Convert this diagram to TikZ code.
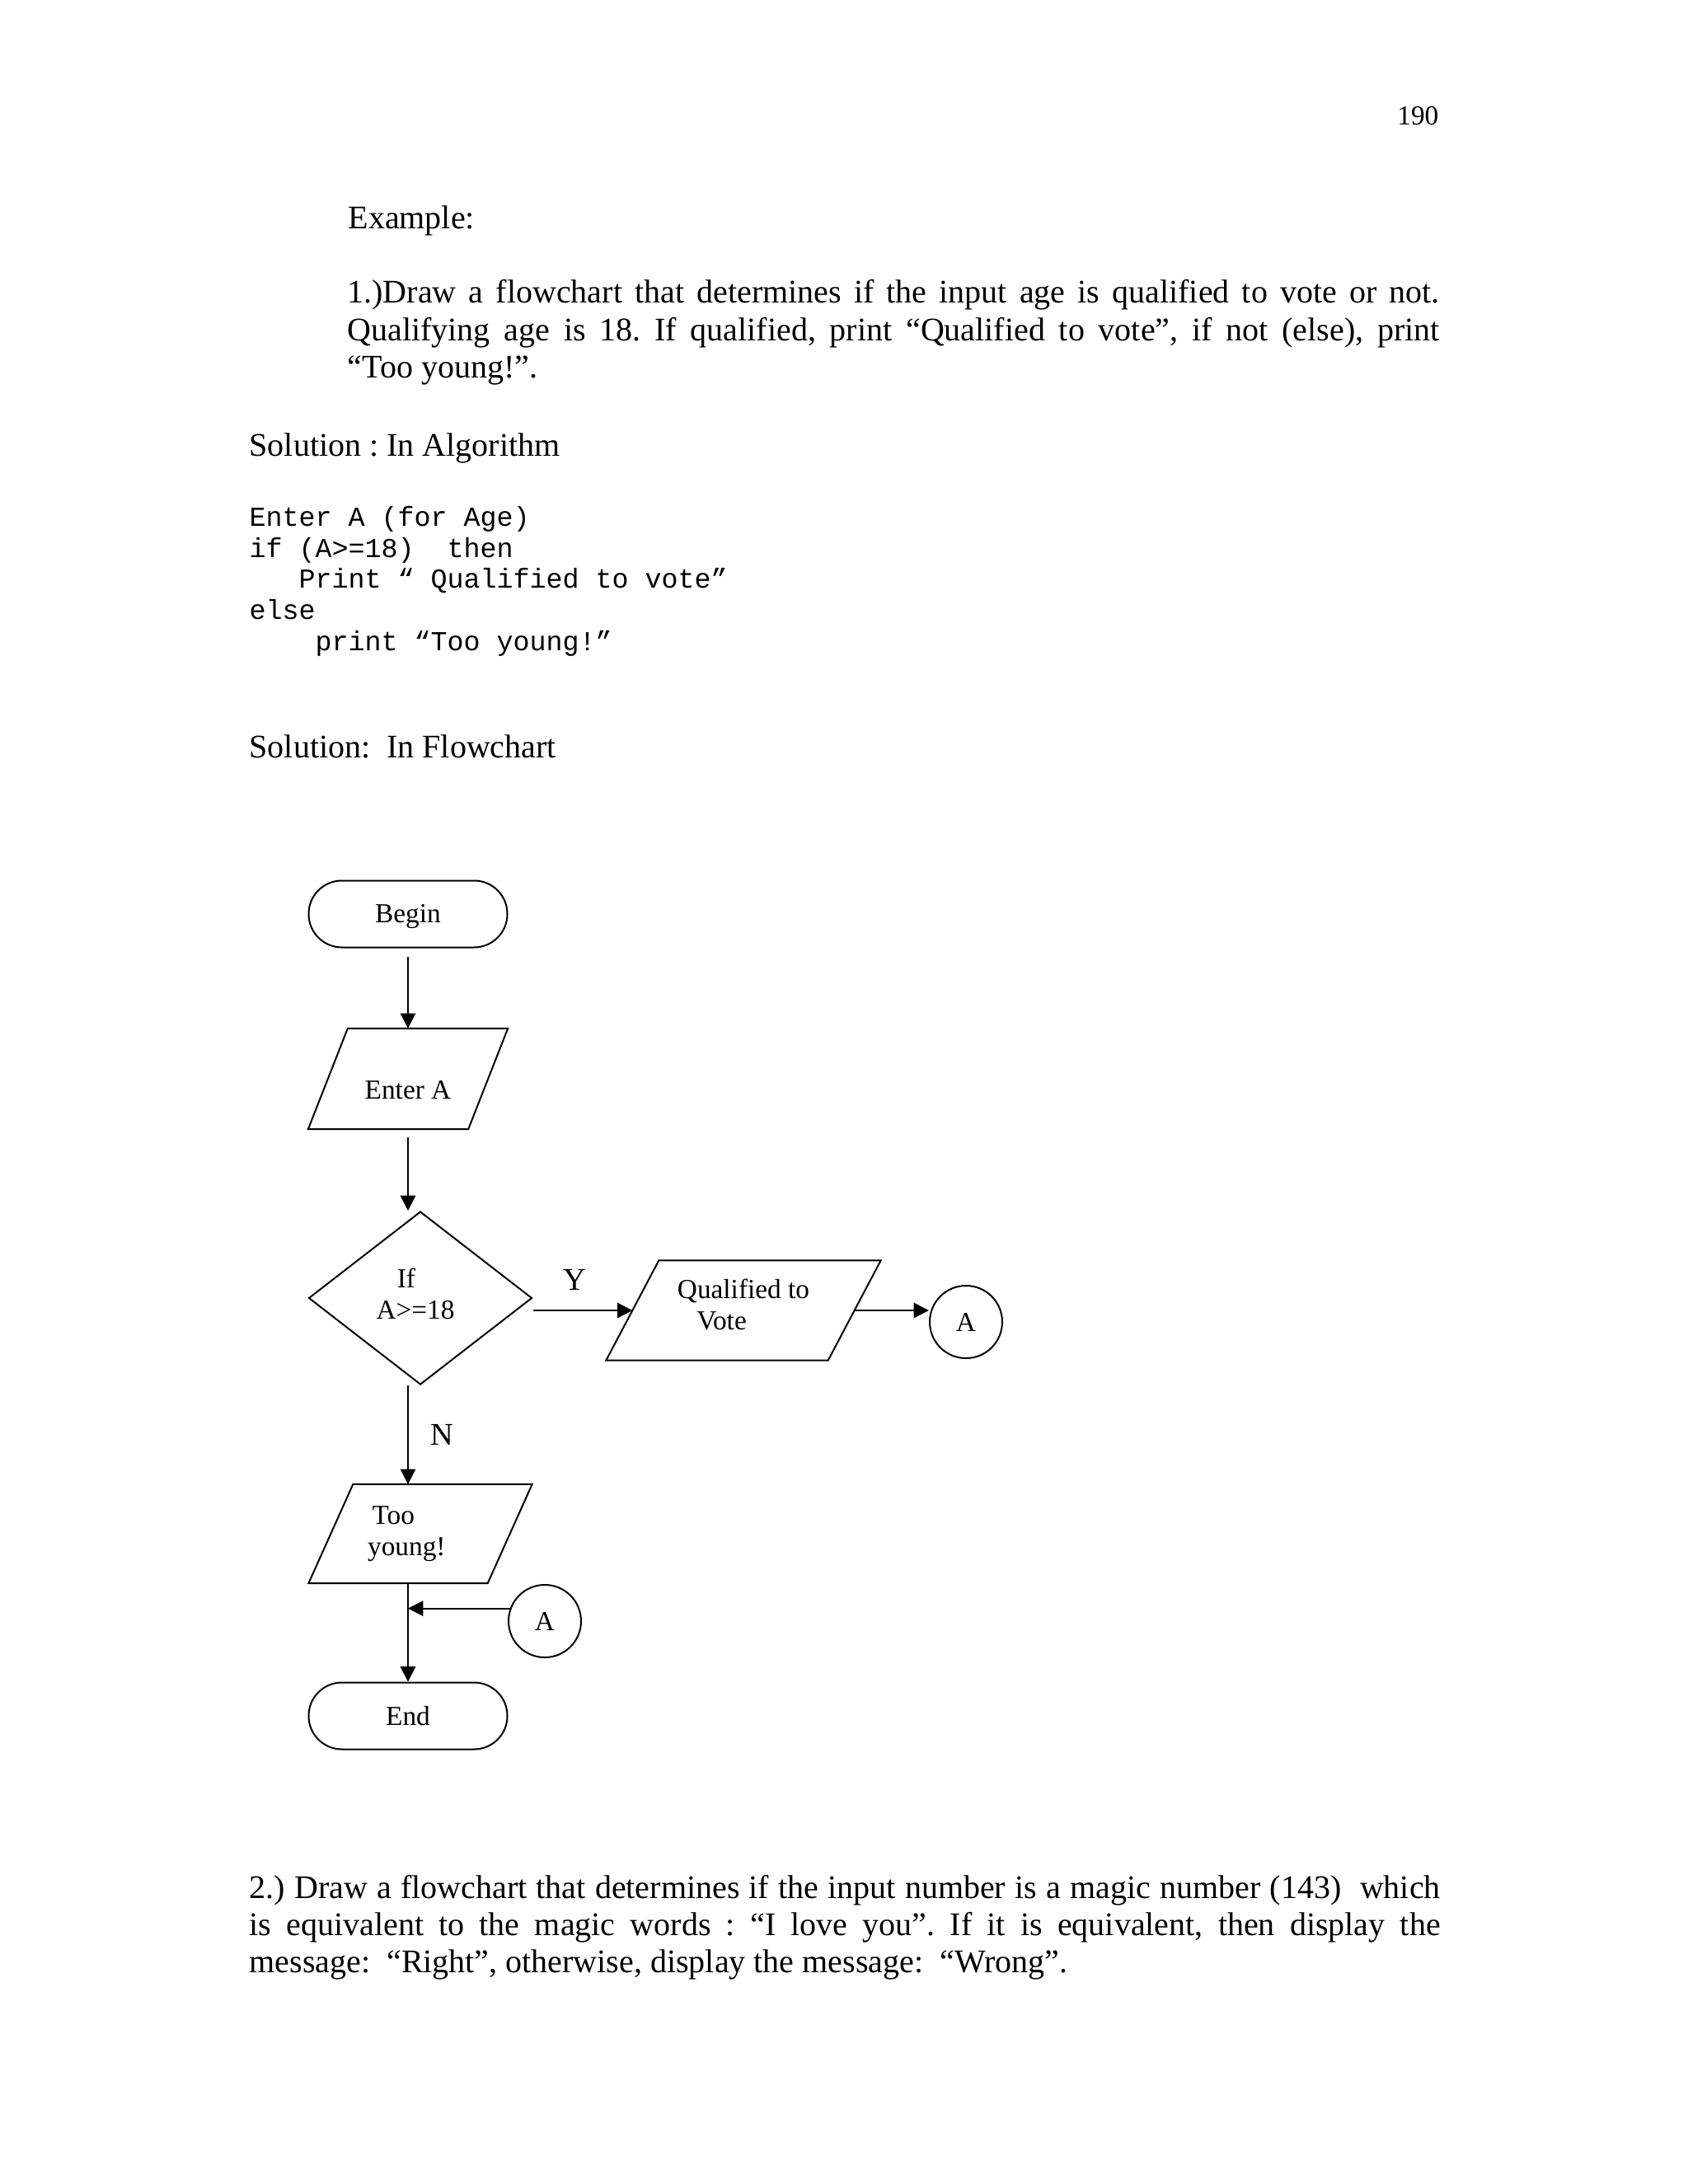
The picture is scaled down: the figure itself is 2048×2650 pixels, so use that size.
\documentclass[tikz,border=0pt]{standalone}
\usepackage{fontspec}
\setmainfont{Liberation Serif}
\setmonofont{Liberation Mono}
\usepackage{tikz}
\usetikzlibrary{arrows.meta,positioning,calc,shapes.geometric}

\begin{document}
\frenchspacing
\begin{tikzpicture}[x=0.3pt,y=-0.3pt,
  every node/.style={inner sep=0pt},
  body/.style={anchor=base west,font=\fontsize{12}{13.8}\selectfont},
  code/.style={anchor=base west,font=\fontsize{10}{11.3}\selectfont\ttfamily},
  term/.style={draw,line width=0.6pt,rounded corners=12.1pt,minimum width=72.3pt,minimum height=24.3pt,font=\fontsize{10}{11.4}\selectfont},
  io/.style={align=left,font=\fontsize{10}{11.4}\selectfont,
    append after command={\pgfextra{\draw[line width=0.6pt]
      ([xshift=#1]\tikzlastnode.north west) -- ([xshift=#1]\tikzlastnode.north east)
      -- ([xshift=-#1]\tikzlastnode.south east) -- ([xshift=-#1]\tikzlastnode.south west) -- cycle;}}},
  decision/.style={draw,line width=0.6pt,diamond,minimum width=81.3pt,minimum height=63pt,align=center,font=\fontsize{10}{11.4}\selectfont},
  conn/.style={draw,line width=0.6pt,circle,minimum size=26.4pt,font=\fontsize{10}{11.4}\selectfont},
  lbl/.style={font=\fontsize{11.5}{13}\selectfont},
  arr/.style={line width=0.6pt,-{Triangle[length=5.5pt,width=5.5pt]}}]
  \fill[white] (0,0) rectangle (2048,2650); % 用紙の背景
  \useasboundingbox (0,0) rectangle (2048,2650); % 用紙の大きさ
  \node[body,anchor=base east,font=\fontsize{10}{12}\selectfont] (pageno) at (1746,151) {190}; % ページ番号
  \node[body] (example) at (422,277) {Example:};
  \node[body] (taskA1) at (421,367) {\makebox[397.5pt][s]{1.)Draw a flowchart that determines if the input age is qualified to vote or not.}}; % 問題1の1行目
  \node[body] (taskA2) at (421,413) {\makebox[397.5pt][s]{Qualifying age is 18. If qualified, print “Qualified to vote”, if not (else), print}};
  \node[body] (taskA3) at (421,458) {“Too young!”.};
  \node[body] (solalgo) at (302,553) {Solution : In Algorithm};
  \node[code] (algo1) at (302,638) {Enter A (for Age)}; % アルゴリズムの各行
  \node[code] (algo2) at (302,676) {if (A>=18)\ \ then};
  \node[code] (algo3) at (362,713) {Print “\ Qualified to vote”};
  \node[code] (algo4) at (302,751) {else};
  \node[code] (algo5) at (382,789) {print “Too young!”};
  \node[body] (solflow) at (302,919) {Solution:\ \ In Flowchart};
  \node[term] (start) at (495,1109) {\raisebox{-0.8pt}[\height][\depth]{Begin}}; % 開始端子
  \node[io=7.2pt,minimum width=57.9pt,minimum height=36.3pt] (enter) at (495,1309)
    {\raisebox{-4pt}[\height][\depth]{Enter A}}; % 入力
  \node[decision] (decide) at (510,1575)
    {\raisebox{1.5pt}[\height][\depth]{If\phantom{If}\rule{3.6pt}{0pt}}\\\raisebox{1.5pt}[\height][\depth]{A>=18\rule{3.6pt}{0pt}}}; % 判断
  \node[io=9.6pt,minimum width=80.4pt,minimum height=36pt] (qual) at (902,1590)
    {\raisebox{2pt}[\height][\depth]{Qualified to}\\\hspace*{7pt}\raisebox{2pt}[\height][\depth]{Vote}}; % Yのときの出力
  \node[conn] (conA1) at (1172,1604) {A}; % 結合子（出口）
  \node[io=8.1pt,minimum width=64.8pt,minimum height=35.7pt] (young) at (510,1861)
    {\,Too\\young!\rule{10pt}{0pt}}; % Nのときの出力
  \node[conn] (conA2) at (661,1967) {A}; % 結合子（入口）
  \node[term] (finish) at (495,2082) {End}; % 終了端子
  \draw[arr,shorten <=3pt] (start.south) -- (enter.north -| start);
  \draw[arr,shorten <=3pt] (enter.south -| start) -- (decide.north -| start);
  \draw[arr] (decide.south -| start) -- (young.north -| start)
    node[lbl,midway,right=8pt] {N};
  \draw[arr] (decide.east |- qual.west) -- (qual.west)
    node[lbl,midway,above=7pt,xshift=-3pt] {Y};
  \draw[arr] (qual.east) -- (qual.east -| conA1.west);
  \draw[arr] (young.south -| start) -- (finish.north); % 合流して終了へ
  \draw[arr] (conA2.160) -- (conA2.160 -| start);
  \node[body] (taskB1) at (302,2303) {\makebox[433.5pt][s]{2.) Draw a flowchart that determines if the input number is a magic number (143)\ \ which}}; % 問題2
  \node[body] (taskB2) at (302,2348) {\makebox[433.5pt][s]{is equivalent to the magic words : “I love you”. If it is equivalent, then display the}};
  \node[body] (taskB3) at (302,2393) {message:\ \ “Right”, otherwise, display the message:\ \ “Wrong”.};
\end{tikzpicture}
\end{document}
